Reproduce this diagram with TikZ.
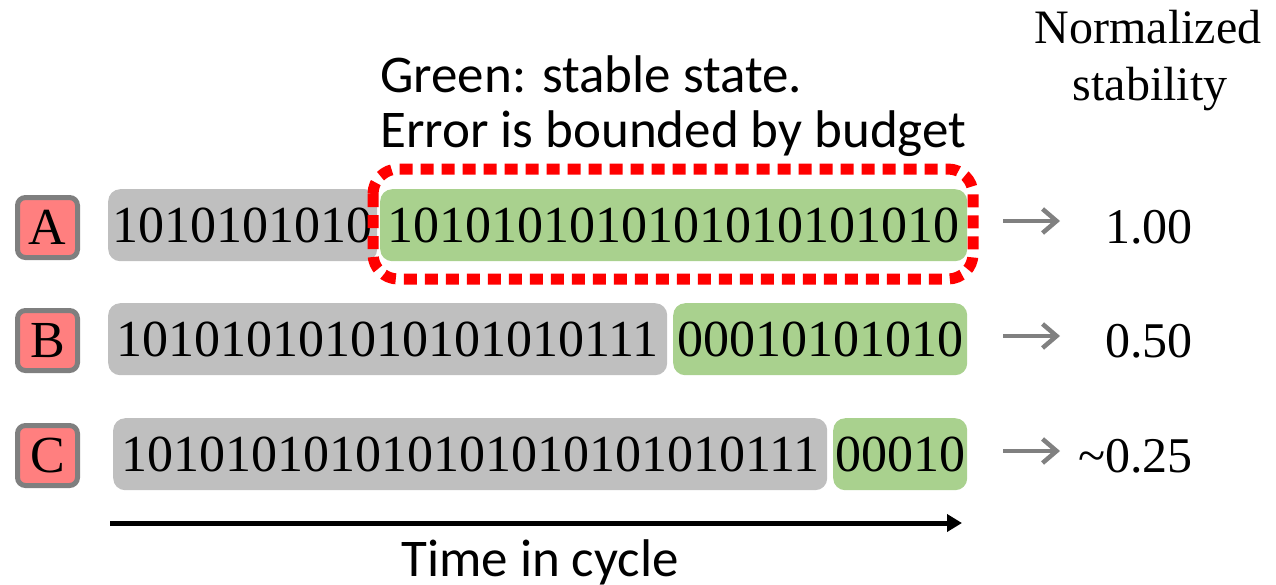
\documentclass[tikz,border=0pt]{standalone}
\usepackage{fontspec}
\setmainfont{Liberation Serif}
\newfontfamily\calibfont{Carlito}
\usetikzlibrary{arrows.meta}
\definecolor{bargray}{HTML}{BFBFBF}
\definecolor{bargreen}{HTML}{A9D18E}
\definecolor{labfill}{HTML}{FF7F7F}
\definecolor{labdraw}{HTML}{7F7F7F}
\definecolor{arrgray}{HTML}{808080}
\newcommand{\bitsfont}{\fontsize{52}{60}\selectfont}
\newcommand{\valfont}{\fontsize{50}{60}\selectfont}
\newcommand{\headfont}{\fontsize{48}{57}\selectfont}
\newcommand{\notefont}{\calibfont\fontsize{53}{64}\selectfont}
\begin{document}
\begin{tikzpicture}[x=1pt,y=-1pt,
  bar/.style={rounded corners=12pt, inner sep=0pt, anchor=north west, font=\bitsfont, minimum height=72pt},
  graybar/.style={bar, fill=bargray},
  greenbar/.style={bar, fill=bargreen},
  lab/.style={draw=labdraw, line width=5pt, fill=labfill, rounded corners=8pt, minimum width=60pt, minimum height=60pt, inner sep=0pt, font=\bitsfont},
  grayarrow/.style={draw=arrgray, line width=4.5pt, -{Straight Barb[length=14pt,width=24pt]}},
  val/.style={anchor=base east, font=\valfont, inner sep=0pt},
  note/.style={anchor=base west, font=\notefont, inner sep=0pt},
  head/.style={anchor=base, font=\headfont, inner sep=0pt},
  budget/.style={draw=red, line width=11pt, dash pattern=on 13pt off 8pt, rounded corners=25pt}
]
\useasboundingbox (0,0) rectangle (1276,584);

% header texts
\node[head] (norm1) at (1148,43) {Normalized};
\node[head] (norm2) at (1150,100) {stability};
\node[note] (note1) at (380,92) {Green: stable state.};
\node[note] (note2) at (380,147) {Error is bounded by budget};

% row A
\node[lab] (la) at (47.5,227.5) {A};
\node[graybar, minimum width=269pt] (ga) at (108,189) {1010101010};
\node[greenbar, minimum width=587pt] (gra) at (380,189) {1010101010101010101010};
\draw[budget] (373,169) rectangle (973,279);
\coordinate (aa1) at (1003,221);
\coordinate (aa2) at (1060,221);
\draw[grayarrow] (aa1) -- (aa2);
\node[val] (va) at (1193,243) {1.00};

% row B
\node[lab] (lb) at (47.5,340.5) {B};
\node[graybar, minimum width=559pt] (gb) at (108,303) {101010101010101010111};
\node[greenbar, minimum width=294pt] (grb) at (673,303) {00010101010};
\coordinate (ab1) at (1003,336);
\coordinate (ab2) at (1060,336);
\draw[grayarrow] (ab1) -- (ab2);
\node[val] (vb) at (1193,357) {0.50};

% row C
\node[lab] (lc) at (47.5,455.5) {C};
\node[graybar, minimum width=714pt] (gc) at (113,418) {101010101010101010101010111};
\node[greenbar, minimum width=134pt] (grc) at (833,418) {00010};
\coordinate (ac1) at (1003,451);
\coordinate (ac2) at (1060,451);
\draw[grayarrow] (ac1) -- (ac2);
\node[val] (vc) at (1193,472) {\textasciitilde0.25};

% time axis
\coordinate (t1) at (110,523);
\coordinate (t2) at (962,523);
\draw[line width=5pt, -{Triangle[length=15pt,width=17pt]}] (t1) -- (t2);
\node[anchor=base, font=\notefont, inner sep=0pt] (time) at (540,576) {Time in cycle};
\end{tikzpicture}
\end{document}
